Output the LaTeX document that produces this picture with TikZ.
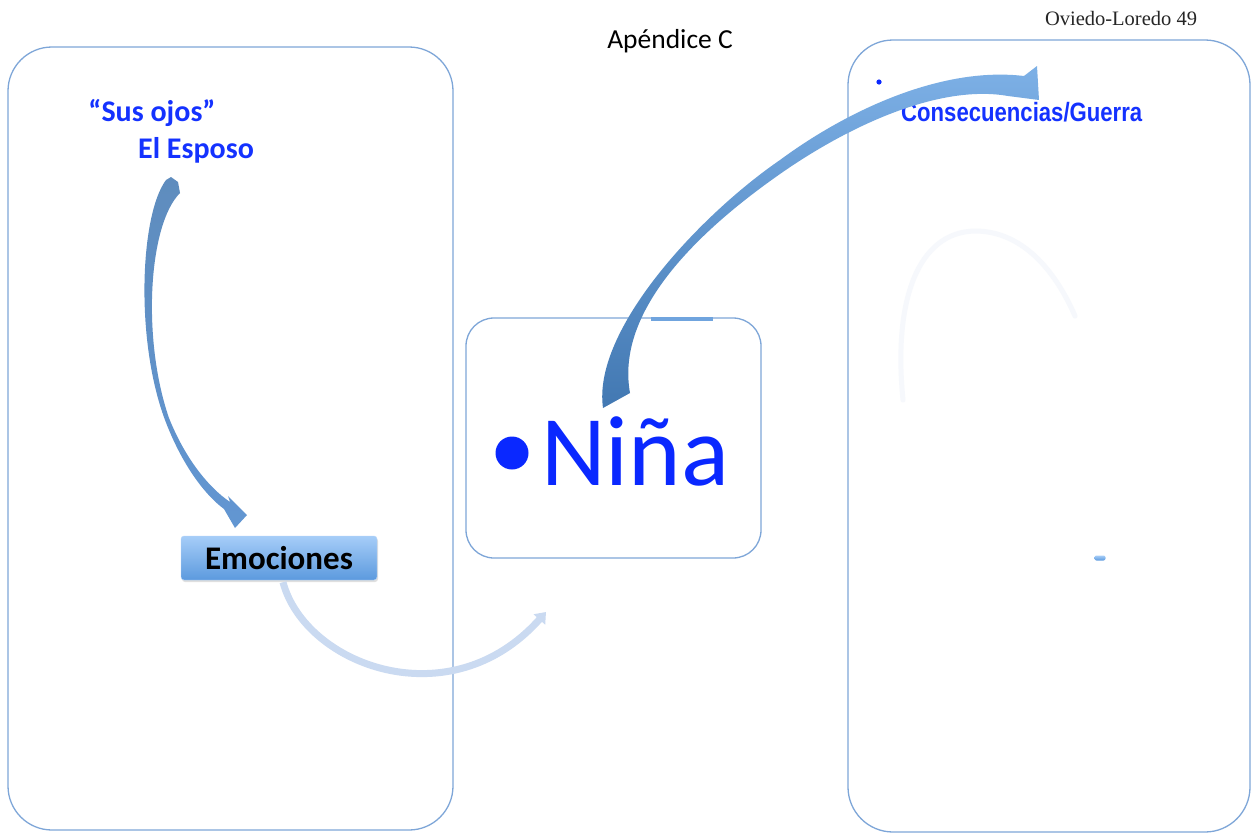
\documentclass[tikz,border=0pt]{standalone}
\usepackage{fontspec}
\usepackage{graphicx}
\setmainfont{Carlito}
\newfontfamily\arialf{Liberation Sans}
\newfontfamily\timesf{Liberation Serif}
\usetikzlibrary{arrows.meta,shadows}
\definecolor{boxline}{RGB}{126,166,216}
\definecolor{txtblue}{RGB}{20,50,255}
\definecolor{ninablue}{RGB}{10,40,255}
\definecolor{arrowdark}{RGB}{66,120,178}
\definecolor{arrowlight}{RGB}{125,176,230}
\definecolor{arrowmid}{RGB}{98,150,210}
\definecolor{palearrow}{RGB}{202,218,241}
\definecolor{faintarc}{RGB}{246,248,252}
\definecolor{emotop}{RGB}{166,205,248}
\definecolor{emobot}{RGB}{92,154,222}
\definecolor{dashblue}{RGB}{112,164,222}
\tikzset{
  panel/.style={draw=boxline, line width=1.3pt, rounded corners=#1, inner sep=0pt},
  bluetext/.style={text=txtblue, font=\bfseries\fontsize{30}{34}\selectfont, inner sep=0pt},
  emobox/.style={rounded corners=3pt, top color=emotop, bottom color=emobot, draw=emotop!80!white, line width=0.4pt,
     minimum width=196pt, minimum height=44pt, inner sep=0pt,
     font=\bfseries\fontsize{33}{36}\selectfont, text=black,
     drop shadow={opacity=0.25, shadow xshift=1pt, shadow yshift=-2pt}},
}
\begin{document}
\begin{tikzpicture}[x=1pt,y=-1pt]
\useasboundingbox (0,0) rectangle (1253,835);
\fill[white] (0,0) rectangle (1253,835);

% panels
\node[panel=44pt, minimum width=445pt, minimum height=783pt] (left) at (230.5,438.5) {};
\node[panel=28pt, minimum width=295pt, minimum height=240pt] (mid) at (613.5,438) {};
\node[panel=45pt, minimum width=402pt, minimum height=792pt] (right) at (1049,436) {};

% header texts
\node[font=\fontsize{27.5}{30}\selectfont, inner sep=0pt, anchor=base] (apx) at (670,48) {Apéndice C};
\node[font=\timesf\fontsize{20.5}{22}\selectfont, inner sep=0pt, anchor=base, text=black!85] (page) at (1121,25) {Oviedo-Loredo 49};

% faint arc in right panel
\draw[faintarc, line width=5pt, line cap=round] (903,400) .. controls (893,300) and (918,232) .. (975,231) .. controls (1022,231) and (1055,270) .. (1075,316);

% left texts
\node[bluetext, anchor=base] (sus) at (152,121) {“Sus ojos”};
\node[bluetext, anchor=base] (esposo) at (196,158) {El Esposo};

% Emociones box
\node[emobox] (emo) at (279,558) {Emociones};

% middle box decorations
\draw[dashblue, line width=4pt] (651,319) -- (713,319);
\fill[ninablue] (512,453) circle (16.5pt);
\node[font=\fontsize{100}{110}\selectfont, text=ninablue, inner sep=0pt, anchor=base west] (nina) at (541,485) {Niña};

% right panel text
\fill[ninablue] (879,82) circle (2.6pt);
\node[font=\arialf\bfseries\fontsize{26.5}{30}\selectfont, text=txtblue, inner sep=0pt, anchor=base west] (cons) at (901,121) {\scalebox{0.835}[1]{Consecuencias/Guerra}};
\node[rounded corners=2pt, top color=emotop, bottom color=emobot, minimum width=11pt, minimum height=5pt, inner sep=0pt] (dot2) at (1100,558) {};

% left tapered arrow (El Esposo -> Emociones)
\shade[top color=arrowdark!85!white, bottom color=arrowmid]
  (166,180) .. controls (140,215) and (135,340) .. (165,420)
  .. controls (182,465) and (205,495) .. (224,509)
  -- (235,528) -- (247,515) -- (228,496) -- (230,502)
  .. controls (208,487) and (185,458) .. (169,418)
  .. controls (142,340) and (148,225) .. (180,193)
  -- (178,182) -- (171,177) -- cycle;

% pale arrow (Emociones -> Niña)
\draw[palearrow, line width=7pt, -{Triangle[length=10pt,width=15pt]}] (emo.south) ++(4,2) .. controls (305,665) and (450,720) .. (546,612);

% big tapered arrow (Niña -> Consecuencias)
\shade[top color=arrowlight, bottom color=arrowdark]
  (603,408) .. controls (592,330) and (700,215) .. (780,160)
  .. controls (845,112) and (940,66) .. (1024,76)
  -- (1037,66) -- (1039,100) -- (1008,96)
  .. controls (940,84) and (850,125) .. (780,174)
  .. controls (700,230) and (615,310) .. (630,393)
  -- cycle;
\end{tikzpicture}
\end{document}
